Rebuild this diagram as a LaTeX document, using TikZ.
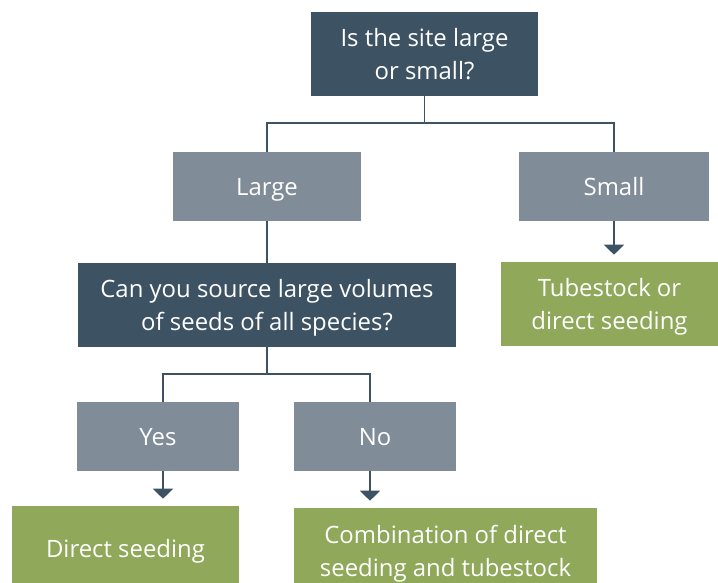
\documentclass[tikz,border=0pt]{standalone}
\usepackage{fontspec}
\setmainfont{Open Sans}
\usepackage{tikz}
\usetikzlibrary{positioning, arrows.meta}
\definecolor{sitedark}{RGB}{61,82,99}
\definecolor{sitegray}{RGB}{128,140,151}
\definecolor{sitegreen}{RGB}{143,168,90}

\begin{document}
\begin{tikzpicture}[
  x=0.025cm, y=-0.025cm,
  qnode/.style={fill=sitedark, text=white, inner sep=0pt, text depth=0pt,
                font=\fontsize{17}{23}\selectfont, align=center},
  anode/.style={fill=sitegray, text=white, inner sep=0pt, text depth=0pt,
                font=\fontsize{17}{23}\selectfont, align=center},
  rnode/.style={fill=sitegreen, text=white, inner sep=0pt, text depth=0pt,
                font=\fontsize{17}{23}\selectfont, align=center},
  link/.style={draw=sitedark, line width=1.4pt},
  arrowlink/.style={link, -{Triangle[width=0.5cm, length=0.25cm]}, shorten >=0.175cm}
]
  \useasboundingbox (0,0) rectangle (718,583);

  %% Questions
  \node[qnode, minimum width=5.675cm, minimum height=2.1cm] (site)  at (424.5,54)  {Is the site large\\or small?};
  \node[qnode, minimum width=9.45cm,  minimum height=2.1cm] (seeds) at (267,305)   {Can you source large volumes\\of seeds of all species?};

  %% Answers
  \node[anode, minimum width=4.7cm,  minimum height=1.7cm]   (large) at (267,186.5) {Large};
  \node[anode, minimum width=4.75cm, minimum height=1.7cm]   (small) at (614,186.5) {Small};
  \node[anode, minimum width=4.05cm, minimum height=1.725cm] (yes)   at (158,436.5) {Yes};
  \node[anode, minimum width=4.05cm, minimum height=1.725cm] (no)    at (375,436.5) {No};

  %% Results
  \node[rnode, minimum width=5.425cm, minimum height=2.1cm]   (tube)   at (609.5,304)  {Tubestock or\\direct seeding};
  \node[rnode, minimum width=5.675cm, minimum height=2.125cm] (direct) at (125.5,548.5) {Direct seeding};
  \node[rnode, minimum width=7.575cm, minimum height=2.15cm]  (combo)  at (445.5,551)   {Combination of direct\\seeding and tubestock};

  %% Branch points
  \coordinate (split1) at (424.5,123);
  \coordinate (split2) at (267,374);

  %% Site size
  \draw[link] (site.south) -- (split1);
  \draw[link] (large.north) |- (split1) -| (small.north);
  \draw[arrowlink] (small.south) -- (small.south |- tube.north);

  %% Seed supply
  \draw[link] (large.south) -- (seeds.north);
  \draw[link] (seeds.south) -- (split2);
  \draw[link] ([xshift=0.125cm]yes.north) |- (split2) -| ([xshift=-0.125cm]no.north);
  \draw[arrowlink] ([xshift=0.125cm]yes.south) -- ([xshift=0.125cm]yes.south |- direct.north);
  \draw[arrowlink] ([xshift=-0.125cm]no.south) -- ([xshift=-0.125cm]no.south |- combo.north);
\end{tikzpicture}
\end{document}
